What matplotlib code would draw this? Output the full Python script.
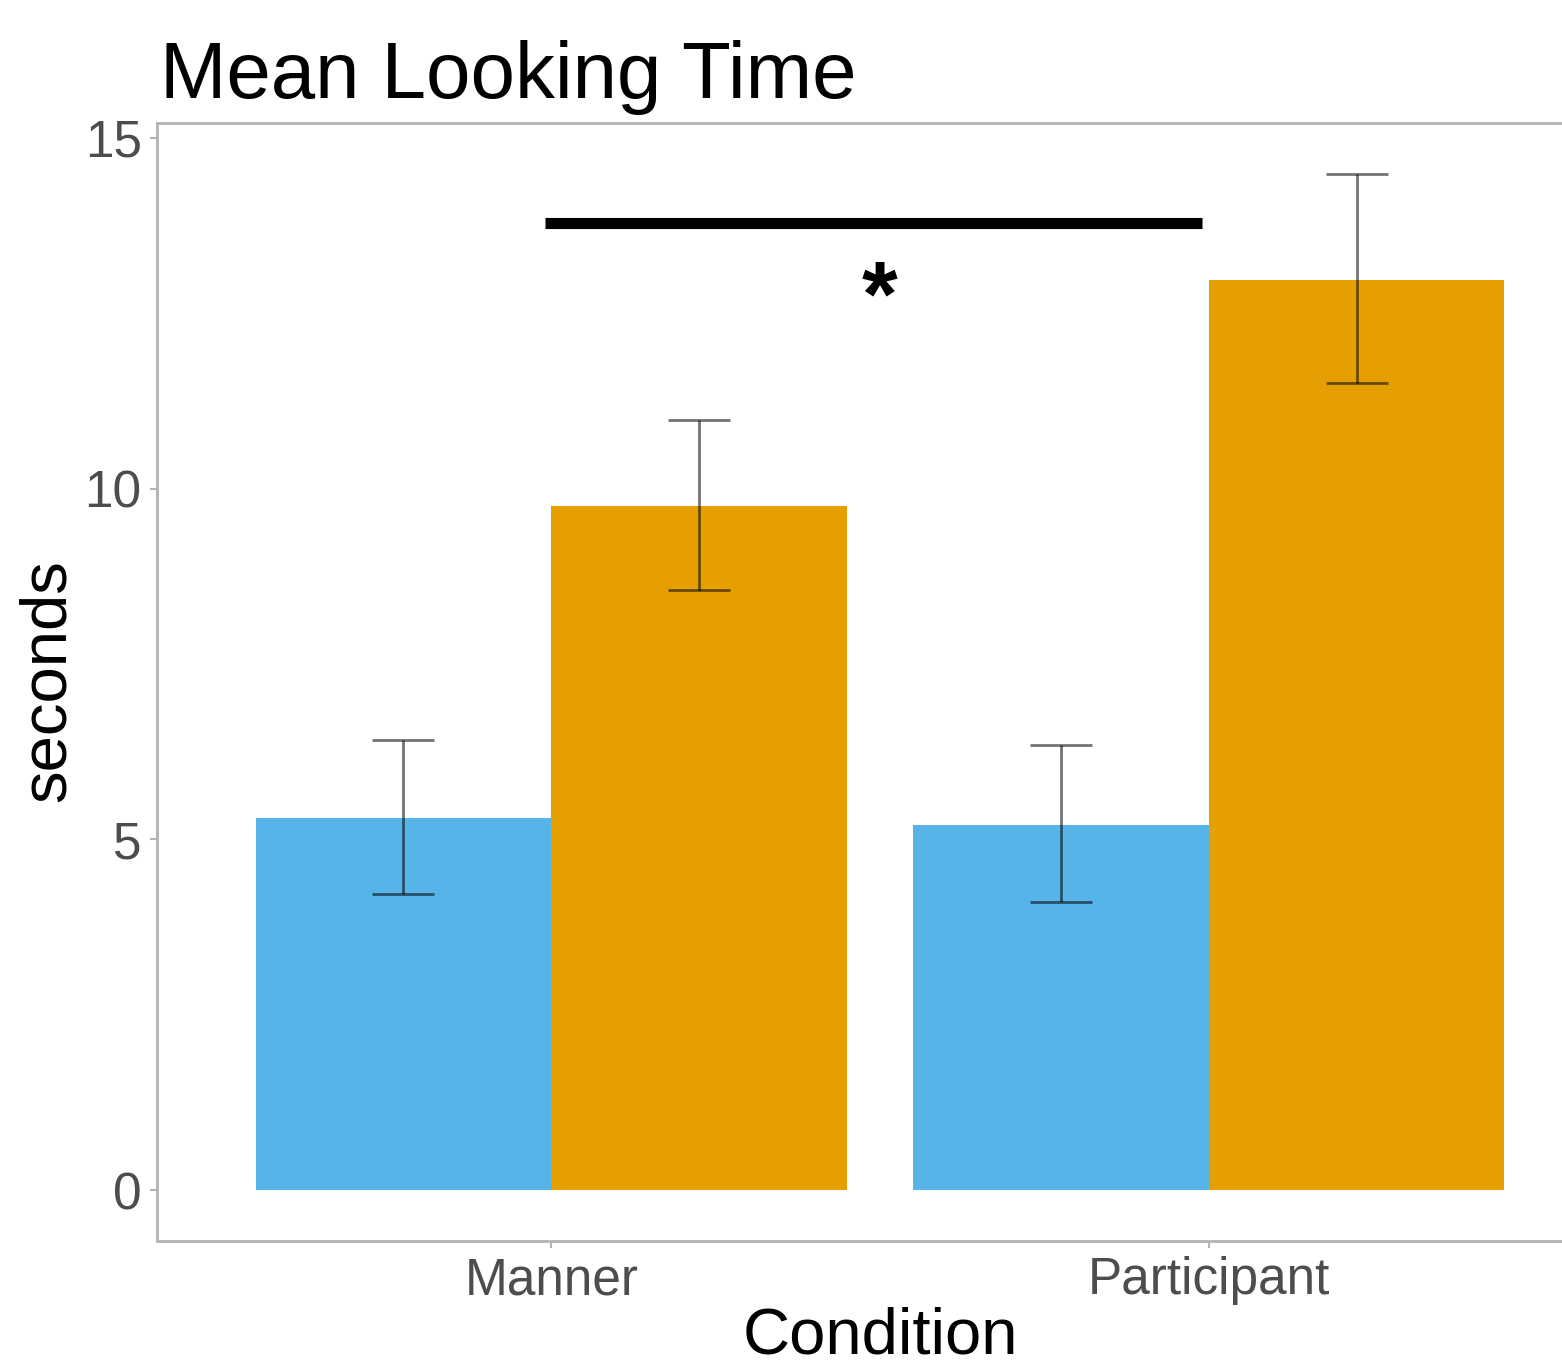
import numpy as np
import matplotlib.pyplot as plt

plt.rcParams['font.family'] = ['Liberation Sans', 'DejaVu Sans']

# === data ===
conditions = ['Manner', 'Participant']
means_blue = [5.30, 5.21]
means_orange = [9.75, 12.97]
lo_blue = [4.22, 4.10]
hi_blue = [6.41, 6.35]
lo_orange = [8.55, 11.50]
hi_orange = [10.97, 14.49]
sig_y = 13.78
star_y = 12.66

blue = '#56B4E9'
orange = '#E69F00'
grey_axis = '#B3B3B3'
grey_text = '#4D4D4D'

W, H = 1562, 1367
fig = plt.figure(figsize=(W / 100, H / 100), dpi=100)
# axes extends past the right edge of the figure (cropped like the original)
left, right, top, bottom = 157, 1603, 123, 1241
ax = fig.add_axes([left / W, 1 - bottom / H, (right - left) / W, (bottom - top) / H])

x = np.arange(1, len(conditions) + 1)
bw = 0.45
ax.bar(x - bw / 2, means_blue, width=bw, color=blue, linewidth=0)
ax.bar(x + bw / 2, means_orange, width=bw, color=orange, linewidth=0)

for xs, m, lo, hi in [(x - bw / 2, means_blue, lo_blue, hi_blue),
                      (x + bw / 2, means_orange, lo_orange, hi_orange)]:
    m = np.array(m)
    yerr = [m - np.array(lo), np.array(hi) - m]
    ax.errorbar(xs, m, yerr=yerr, fmt='none', ecolor='black', alpha=0.55,
                elinewidth=2, capsize=22, capthick=2)

# significance bar and star
ax.plot([0.99, 1.99], [sig_y, sig_y], color='black', linewidth=8, solid_capstyle='butt')
ax.text(1.5, star_y, '*', ha='center', va='center', fontsize=66, fontweight='bold')

ax.set_xlim(0.4, 2.6)
ax.set_ylim(-0.725, 15.21)
ax.set_xticks(x)
ax.set_xticklabels(conditions)
ax.set_yticks([0, 5, 10, 15])
ax.tick_params(axis='both', colors=grey_axis, labelcolor=grey_text, labelsize=37,
               length=5, width=1.5, pad=6)
for s in ax.spines.values():
    s.set_color(grey_axis)
    s.set_linewidth(2)

fig.text(160 / W, 1 - 98 / H, 'Mean Looking Time', fontsize=57.5, ha='left', va='baseline')
fig.text(880 / W, 1 - 1353 / H, 'Condition', fontsize=47, ha='center', va='baseline')
fig.text(48 / W, 1 - 681 / H, 'seconds', fontsize=47, rotation=90, ha='center', va='center')

plt.savefig('out.png', dpi=100)
